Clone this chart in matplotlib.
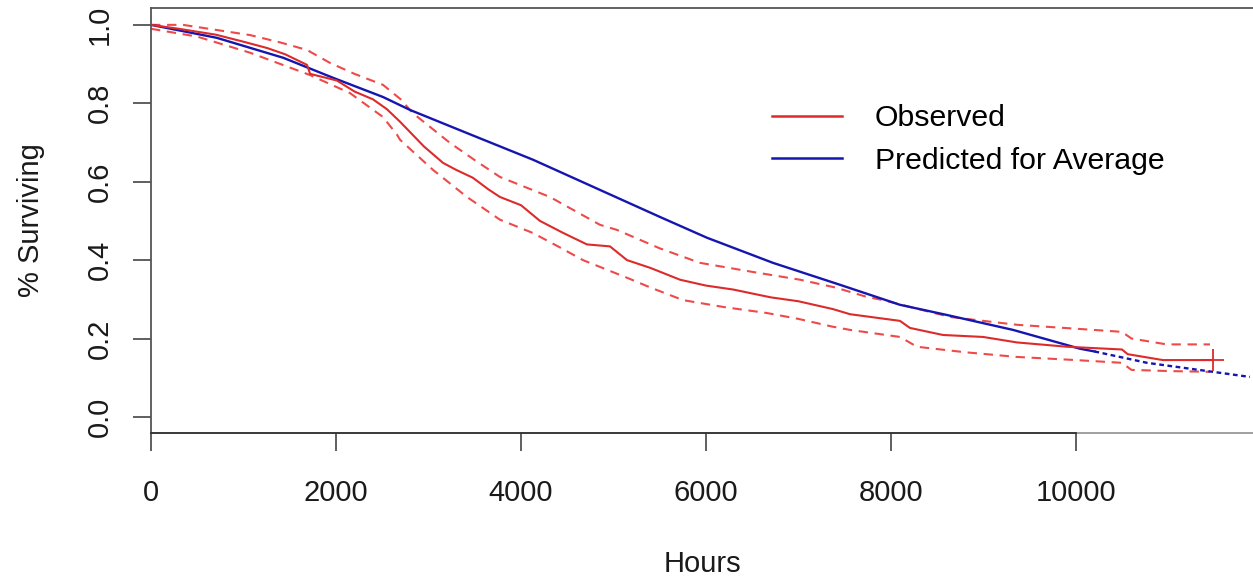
import numpy as np
import matplotlib
matplotlib.use("Agg")
from matplotlib import pyplot as plt

plt.rcParams['font.family'] = ['Liberation Sans', 'DejaVu Sans']

# Kaplan-Meier observed survival
obs_t = [0, 300, 700, 1000, 1254, 1450, 1686, 1720, 2010, 2200, 2400, 2550, 2692, 2950,
         3157, 3300, 3480, 3650, 3773, 4000, 4205, 4450, 4713, 4962, 5146, 5400, 5719,
         6000, 6292, 6700, 7000, 7373, 7557, 8097, 8205, 8562, 8995, 9362, 9903, 10497,
         10560, 10940, 11481]
obs_s = [1.0, 0.99, 0.975, 0.957, 0.941, 0.925, 0.898, 0.875, 0.858, 0.83, 0.81, 0.785,
         0.753, 0.69, 0.648, 0.63, 0.61, 0.58, 0.561, 0.54, 0.50, 0.47, 0.44, 0.435, 0.40,
         0.38, 0.35, 0.335, 0.325, 0.305, 0.295, 0.275, 0.262, 0.245, 0.227, 0.209, 0.204,
         0.19, 0.179, 0.172, 0.16, 0.145, 0.145]

upper_t = [0, 346, 1070, 1400, 1686, 1935, 2200, 2508, 2700, 2830, 3232, 3500, 3773, 4313,
           4854, 5038, 5500, 5935, 6500, 7016, 7400, 7741, 7914, 8300, 8638, 9000, 9362,
           10000, 10497, 10600, 10980, 11449]
upper_s = [1.0, 1.0, 0.974, 0.955, 0.936, 0.903, 0.875, 0.847, 0.81, 0.775, 0.699, 0.655,
           0.612, 0.561, 0.49, 0.477, 0.43, 0.393, 0.37, 0.35, 0.33, 0.306, 0.298, 0.275,
           0.255, 0.245, 0.235, 0.225, 0.217, 0.20, 0.185, 0.185]

lower_t = [0, 500, 1070, 1400, 1719, 2151, 2508, 2659, 2692, 3049, 3416, 3773, 4130, 4400,
           4670, 5146, 5400, 5751, 6200, 6659, 7000, 7373, 7557, 8097, 8281, 8800, 9362,
           10000, 10497, 10600, 11000, 11449]
lower_s = [0.99, 0.97, 0.929, 0.9, 0.872, 0.826, 0.765, 0.72, 0.707, 0.63, 0.561, 0.503,
           0.469, 0.435, 0.40, 0.355, 0.33, 0.298, 0.28, 0.265, 0.25, 0.23, 0.222, 0.204,
           0.179, 0.165, 0.153, 0.145, 0.138, 0.12, 0.117, 0.115]

# predicted survival for average covariates
pred_t = [0, 710, 1430, 1968, 2508, 2800, 3416, 4130, 4854, 5503, 6011, 6724, 7449, 8097,
          8605, 9319, 10043, 10200]
pred_s = [1.0, 0.967, 0.916, 0.865, 0.816, 0.783, 0.724, 0.656, 0.579, 0.51, 0.457, 0.393,
          0.337, 0.286, 0.26, 0.222, 0.174, 0.167]
pred_ext_t = [10200, 10768, 11481, 11881]
pred_ext_s = [0.167, 0.138, 0.115, 0.102]

red = '#dd2a2a'
red_ci = '#ee4a4a'
blue = '#1515b0'

fig = plt.figure(figsize=(12.53, 5.81), dpi=100)
ax = fig.add_axes([151 / 1253, 1 - 433 / 581, 1 - 151 / 1253, (433 - 8) / 581])

ax.plot(upper_t, upper_s, color=red_ci, lw=1.5, ls=(0, (4.5, 3.2)))
ax.plot(lower_t, lower_s, color=red_ci, lw=1.5, ls=(0, (4.5, 3.2)))
ax.plot(pred_t, pred_s, color=blue, lw=1.7)
ax.plot(pred_ext_t, pred_ext_s, color=blue, lw=1.7, ls=(0, (2, 1.5)))
ax.plot(obs_t, obs_s, color=red, lw=1.5)
ax.plot(obs_t[-1], obs_s[-1], marker='+', color=red, ms=16, mew=1.3)

ax.set_xlim(0, 11914)
ax.set_ylim(-0.041, 1.043)

ax.set_xticks([0, 2000, 4000, 6000, 8000, 10000])
ax.set_yticks([0.0, 0.2, 0.4, 0.6, 0.8, 1.0])
ax.set_yticklabels(['0.0', '0.2', '0.4', '0.6', '0.8', '1.0'], rotation=90, va='center')

for s in ['left', 'top', 'bottom']:
    ax.spines[s].set_color('#555555')
    ax.spines[s].set_linewidth(1.3)
ax.spines['right'].set_visible(False)
ax.spines['bottom'].set_bounds(0, 10000)
ax.spines['bottom'].set_color('#333333')
ax.axhline(-0.041, color='#999999', lw=1.3, clip_on=False, zorder=0.5)

ax.tick_params(axis='both', direction='out', length=13, width=1.2, color='#444444',
               labelsize=21, labelcolor='#1a1a1a')
ax.tick_params(axis='x', pad=20)
ax.tick_params(axis='y', pad=14)

ax.set_xlabel('Hours', fontsize=21, labelpad=31, color='#1a1a1a')
ax.set_ylabel('% Surviving', fontsize=21, labelpad=29, color='#1a1a1a')

ax.plot([], [], color=red, lw=1.8, label='Observed')
ax.plot([], [], color=blue, lw=1.8, label='Predicted for Average')
handles, labels = ax.get_legend_handles_labels()
ax.legend(handles[-2:], labels[-2:], loc='upper left', bbox_to_anchor=(0.539, 0.838),
          frameon=False, prop={'size': 21.8}, handlelength=2.3, handletextpad=1.08,
          labelspacing=0.48)

fig.savefig('out.png', dpi=100)
